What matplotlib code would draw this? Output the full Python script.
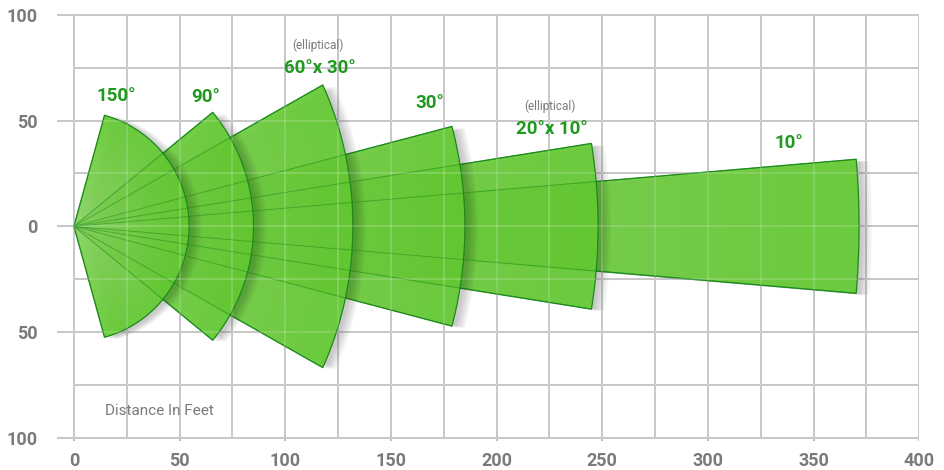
import numpy as np
import matplotlib
matplotlib.use("Agg")
from matplotlib import pyplot as plt
from matplotlib.patches import Polygon

plt.rcParams['font.family'] = ['Roboto', 'DejaVu Sans']

# beam patterns, widest drawn last (on top)
names = ["10°", "20°x 10°", "30°", "60°x 30°", "90°", "150°"]
notes = ["", "(elliptical)", "", "(elliptical)", "", ""]
reach_x = [371.5, 248, 185, 132, 85, 54.5]     # distance along axis (feet)
reach_y = [371.5, 248, 185, 148, 85, 54.5]     # ellipse half axis across
half_angle = [4.9, 9.1, 14.8, 29.6, 39.4, 74.6]

label_x = [338.5, 226.2, 168.3, 116.6, 62.4, 20.2]
label_y = [39.2, 46.0, 58.3, 75.1, 61.3, 61.6]

xticks = [0, 50, 100, 150, 200, 250, 300, 350, 400]
yticks = [-100, -50, 0, 50, 100]
ytick_labels = ["100", "50", "0", "50", "100"]

grey = '#7a7a7a'
green_text = '#1f9a1f'
edge_col = '#1a8a1a'
base = np.array([100, 202, 50]) / 255
light = np.array([138, 210, 100]) / 255


def sector_pts(rx, ry, a, n=120):
    th = np.radians(np.linspace(-a, a, n))
    r = 1 / np.sqrt(np.cos(th)**2 / rx**2 + np.sin(th)**2 / ry**2)
    xs = np.concatenate([[0], r * np.cos(th)])
    ys = np.concatenate([[0], r * np.sin(th)])
    return np.column_stack([xs, ys])


fig = plt.figure(figsize=(9.44, 4.70), dpi=100)
ax = fig.add_axes([0.06038, 0.0623, 0.91345, 0.9071])

# grid under the beams
for y in range(-100, 101, 25):
    x0 = -8 if y % 50 == 0 else 0
    ax.plot([x0, 400], [y, y], color='#b5b5b5', lw=1.3, zorder=0)
for x in range(0, 401, 25):
    y0 = -101.5 if x % 50 == 0 else -100
    ax.plot([x, x], [y0, 100], color='#b5b5b5', lw=1.3, zorder=0)

z = 2
for i in range(len(names)):
    pts = sector_pts(reach_x[i], reach_y[i], half_angle[i])
    # soft shadow
    for off in [2.0, 3.0, 4.0, 5.0, 6.0]:
        sh = Polygon(pts + [off, -0.8], closed=True, facecolor='black',
                     alpha=0.045, edgecolor='none', zorder=z)
        ax.add_patch(sh)
    # gradient fill clipped to the sector
    ymax = pts[:, 1].max()
    xmax = pts[:, 0].max()
    gx = np.linspace(0, xmax, 300)
    gy = np.linspace(-ymax, ymax, 200)
    GX, GY = np.meshgrid(gx, gy)
    t = np.clip(np.hypot(GX, GY) / reach_x[i], 0, 1) ** 0.8
    img = np.zeros(GX.shape + (4,))
    for c in range(3):
        img[..., c] = light[c] * (1 - t) + base[c] * t
    img[..., 3] = 0.93
    clip = Polygon(pts, closed=True, facecolor='none', edgecolor='none')
    ax.add_patch(clip)
    im = ax.imshow(img, extent=[0, xmax, -ymax, ymax], origin='lower',
                   aspect='auto', zorder=z + 1, interpolation='bilinear')
    im.set_clip_path(clip)
    ax.add_patch(Polygon(pts, closed=True, facecolor='none',
                         edgecolor=edge_col, lw=0.9, zorder=z + 2))
    z += 3

# edges of the hidden beams show through
for i in range(len(names)):
    pts = sector_pts(reach_x[i], reach_y[i], half_angle[i])
    for p in [pts[1], pts[-1]]:
        ax.plot([0, p[0]], [0, p[1]], color=edge_col, lw=0.7, alpha=0.5,
                zorder=z)

# light grid over the beams
for y in range(-100, 101, 25):
    x0 = -8 if y % 50 == 0 else 0
    ax.plot([x0, 400], [y, y], color='white', lw=1.3, alpha=0.2, zorder=z + 1)
for x in range(0, 401, 25):
    ax.plot([x, x], [-100, 100], color='white', lw=1.3, alpha=0.2, zorder=z + 1)

for i in range(len(names)):
    ax.text(label_x[i], label_y[i], names[i], color=green_text, fontsize=13.5,
            fontweight='bold', ha='center', va='center', zorder=z + 2)
    if notes[i]:
        ax.text(label_x[i] - 1, label_y[i] + 10.6, notes[i], color=grey,
                fontsize=8.5, ha='center', va='center', zorder=z + 2)

ax.text(40.3, -87.5, "Distance In Feet", color=grey, fontsize=11,
        ha='center', va='center', zorder=z + 2)

ax.set_xlim(-8, 400)
ax.set_ylim(-101.5, 100.3)
ax.set_xticks(xticks)
ax.set_xticklabels([str(v) for v in xticks])
ax.set_yticks(yticks)
ax.set_yticklabels(ytick_labels)
ax.tick_params(length=0, labelsize=13, labelcolor=grey)
ax.tick_params(axis='y', pad=14)
ax.tick_params(axis='x', pad=8)
for lab in ax.get_xticklabels() + ax.get_yticklabels():
    lab.set_fontweight('bold')
for s in ax.spines.values():
    s.set_visible(False)

fig.savefig("out.png", dpi=100)
